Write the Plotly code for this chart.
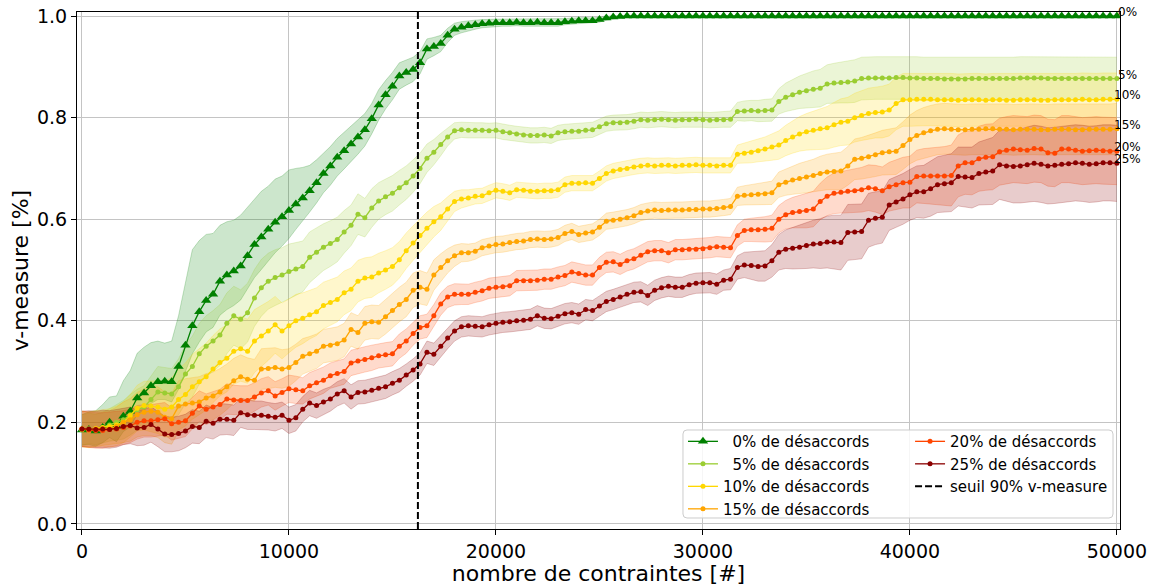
import numpy as np
import plotly.graph_objects as go

# ---------------- data ----------------
X_MAX = 50000
THRESHOLD_X = 16230          # seuil 90% v-measure
series_labels = ["0%", "5%", "10%", "15%", "20%", "25%"]
legend_names = ["\u20070% de désaccords", "\u20075% de désaccords", "10% de désaccords",
                "15% de désaccords", "20% de désaccords", "25% de désaccords"]
threshold_name = "seuil 90% v-measure"
x_ticks = [0, 10000, 20000, 30000, 40000, 50000]
y_ticks = [0.0, 0.2, 0.4, 0.6, 0.8, 1.0]

v0 = [0.185, 0.186, 0.183, 0.190, 0.200, 0.192, 0.212, 0.222, 0.248, 0.258,
      0.272, 0.280, 0.281, 0.280, 0.310, 0.352, 0.390, 0.418, 0.440, 0.452,
      0.478, 0.490, 0.498, 0.508, 0.528, 0.550, 0.565, 0.580, 0.594, 0.605,
      0.617, 0.630, 0.642, 0.656, 0.672, 0.690, 0.705, 0.722, 0.735, 0.748,
      0.762, 0.776, 0.798, 0.825, 0.845, 0.862, 0.882, 0.889, 0.895, 0.908,
      0.935, 0.940, 0.946, 0.962, 0.974, 0.978, 0.981, 0.983, 0.985, 0.986,
      0.987, 0.987, 0.987, 0.988, 0.987, 0.987, 0.988, 0.987, 0.987, 0.987,
      0.989, 0.990, 0.991, 0.991, 0.991, 0.993, 0.996, 0.998, 0.999, 1.000,
      1.000, 1.000, 1.000, 1.000, 1.000, 1.000, 1.000, 1.000, 1.000, 1.000,
      1.000, 1.000, 1.000, 1.000, 1.000, 1.000, 1.000, 1.000, 1.000, 1.000,
      1.000, 1.000, 1.000, 1.000, 1.000, 1.000, 1.000, 1.000, 1.000, 1.000,
      1.000, 1.000, 1.000, 1.000, 1.000, 1.000, 1.000, 1.000, 1.000, 1.000,
      1.000, 1.000, 1.000, 1.000, 1.000, 1.000, 1.000, 1.000, 1.000, 1.000,
      1.000, 1.000, 1.000, 1.000, 1.000, 1.000, 1.000, 1.000, 1.000, 1.000,
      1.000, 1.000, 1.000, 1.000, 1.000, 1.000, 1.000, 1.000, 1.000, 1.000,
      1.000]
e0_lo = [0.030, 0.030, 0.030, 0.030, 0.030, 0.030, 0.030, 0.031, 0.032, 0.034,
         0.035, 0.035, 0.036, 0.040, 0.045, 0.050, 0.055, 0.060, 0.062, 0.065,
         0.067, 0.068, 0.068, 0.067, 0.066, 0.065, 0.064, 0.062, 0.060, 0.058,
         0.055, 0.050, 0.046, 0.042, 0.040, 0.038, 0.038, 0.037, 0.036, 0.035,
         0.034, 0.032, 0.030, 0.030, 0.028, 0.027, 0.026, 0.025, 0.024, 0.022,
         0.020, 0.018, 0.016, 0.014, 0.012, 0.011, 0.010, 0.009, 0.008, 0.008,
         0.007, 0.007, 0.007, 0.007, 0.007, 0.007, 0.007, 0.007, 0.007, 0.007,
         0.006, 0.006, 0.006, 0.006, 0.005, 0.005, 0.004, 0.003, 0.002, 0.001,
         0.0, 0.0, 0.0, 0.0, 0.0, 0.0, 0.0, 0.0, 0.0, 0.0,
         0.0, 0.0, 0.0, 0.0, 0.0, 0.0, 0.0, 0.0, 0.0, 0.0,
         0.0, 0.0, 0.0, 0.0, 0.0, 0.0, 0.0, 0.0, 0.0, 0.0,
         0.0, 0.0, 0.0, 0.0, 0.0, 0.0, 0.0, 0.0, 0.0, 0.0,
         0.0, 0.0, 0.0, 0.0, 0.0, 0.0, 0.0, 0.0, 0.0, 0.0,
         0.0, 0.0, 0.0, 0.0, 0.0, 0.0, 0.0, 0.0, 0.0, 0.0,
         0.0, 0.0, 0.0, 0.0, 0.0, 0.0, 0.0, 0.0, 0.0, 0.0,
         0.0]
e0_hi = [0.030, 0.035, 0.040, 0.045, 0.050, 0.060, 0.070, 0.080, 0.088, 0.090,
         0.085, 0.080, 0.075, 0.080, 0.100, 0.125, 0.150, 0.140, 0.130, 0.120,
         0.110, 0.105, 0.100, 0.100, 0.095, 0.090, 0.090, 0.085, 0.085, 0.080,
         0.080, 0.070, 0.060, 0.050, 0.045, 0.040, 0.038, 0.037, 0.036, 0.035,
         0.034, 0.032, 0.030, 0.030, 0.028, 0.027, 0.026, 0.025, 0.024, 0.022,
         0.020, 0.018, 0.016, 0.014, 0.012, 0.011, 0.010, 0.009, 0.008, 0.008,
         0.007, 0.007, 0.007, 0.007, 0.007, 0.007, 0.007, 0.007, 0.007, 0.007,
         0.006, 0.006, 0.006, 0.006, 0.005, 0.005, 0.004, 0.003, 0.002, 0.001,
         0.0, 0.0, 0.0, 0.0, 0.0, 0.0, 0.0, 0.0, 0.0, 0.0,
         0.0, 0.0, 0.0, 0.0, 0.0, 0.0, 0.0, 0.0, 0.0, 0.0,
         0.0, 0.0, 0.0, 0.0, 0.0, 0.0, 0.0, 0.0, 0.0, 0.0,
         0.0, 0.0, 0.0, 0.0, 0.0, 0.0, 0.0, 0.0, 0.0, 0.0,
         0.0, 0.0, 0.0, 0.0, 0.0, 0.0, 0.0, 0.0, 0.0, 0.0,
         0.0, 0.0, 0.0, 0.0, 0.0, 0.0, 0.0, 0.0, 0.0, 0.0,
         0.0, 0.0, 0.0, 0.0, 0.0, 0.0, 0.0, 0.0, 0.0, 0.0,
         0.0]

v5 = [0.185, 0.188, 0.186, 0.190, 0.195, 0.200, 0.205, 0.215, 0.225, 0.230,
      0.245, 0.260, 0.258, 0.256, 0.270, 0.295, 0.310, 0.335, 0.350, 0.360,
      0.372, 0.395, 0.410, 0.403, 0.416, 0.445, 0.465, 0.478, 0.485, 0.490,
      0.497, 0.502, 0.507, 0.525, 0.535, 0.545, 0.552, 0.560, 0.575, 0.588,
      0.610, 0.603, 0.622, 0.636, 0.644, 0.651, 0.662, 0.672, 0.685, 0.700,
      0.720, 0.732, 0.747, 0.762, 0.774, 0.776, 0.775, 0.775, 0.775, 0.774,
      0.775, 0.772, 0.770, 0.768, 0.766, 0.765, 0.765, 0.766, 0.764, 0.770,
      0.772, 0.773, 0.773, 0.775, 0.776, 0.782, 0.788, 0.790, 0.790, 0.791,
      0.793, 0.796, 0.795, 0.796, 0.797, 0.796, 0.795, 0.796, 0.796, 0.797,
      0.796, 0.795, 0.796, 0.796, 0.797, 0.812, 0.813, 0.814, 0.813, 0.814,
      0.815, 0.832, 0.840, 0.845, 0.850, 0.853, 0.856, 0.858, 0.866, 0.868,
      0.869, 0.870, 0.872, 0.877, 0.878, 0.878, 0.878, 0.878, 0.879, 0.879,
      0.878, 0.878, 0.877, 0.877, 0.877, 0.876, 0.876, 0.876, 0.876, 0.877,
      0.877, 0.877, 0.877, 0.877, 0.877, 0.877, 0.878, 0.878, 0.878, 0.878,
      0.877, 0.877, 0.877, 0.877, 0.877, 0.877, 0.877, 0.877, 0.877, 0.877,
      0.877]
e5 = [0.030, 0.030, 0.030, 0.030, 0.032, 0.035, 0.038, 0.040, 0.040, 0.042,
      0.045, 0.050, 0.050, 0.050, 0.055, 0.058, 0.060, 0.060, 0.060, 0.060,
      0.060, 0.060, 0.058, 0.058, 0.058, 0.056, 0.056, 0.055, 0.055, 0.054,
      0.054, 0.052, 0.050, 0.050, 0.048, 0.046, 0.045, 0.044, 0.042, 0.040,
      0.040, 0.038, 0.038, 0.036, 0.035, 0.035, 0.034, 0.033, 0.032, 0.030,
      0.028, 0.025, 0.022, 0.018, 0.016, 0.015, 0.015, 0.015, 0.015, 0.015,
      0.015, 0.015, 0.015, 0.015, 0.015, 0.015, 0.015, 0.015, 0.015, 0.015,
      0.015, 0.015, 0.015, 0.015, 0.015, 0.015, 0.015, 0.015, 0.015, 0.015,
      0.015, 0.015, 0.015, 0.015, 0.015, 0.015, 0.015, 0.015, 0.015, 0.015,
      0.015, 0.015, 0.015, 0.015, 0.016, 0.018, 0.020, 0.020, 0.021, 0.022,
      0.022, 0.025, 0.028, 0.030, 0.032, 0.034, 0.036, 0.037, 0.038, 0.039,
      0.040, 0.041, 0.042, 0.042, 0.042, 0.042, 0.042, 0.042, 0.042, 0.042,
      0.042, 0.042, 0.042, 0.042, 0.042, 0.042, 0.042, 0.042, 0.042, 0.042,
      0.042, 0.042, 0.042, 0.042, 0.042, 0.042, 0.042, 0.042, 0.042, 0.042,
      0.042, 0.042, 0.042, 0.042, 0.042, 0.042, 0.042, 0.042, 0.042, 0.042,
      0.042]

v10 = [0.187, 0.185, 0.188, 0.190, 0.192, 0.195, 0.200, 0.213, 0.228, 0.233,
       0.232, 0.230, 0.226, 0.230, 0.245, 0.255, 0.270, 0.280, 0.290, 0.305,
       0.318, 0.326, 0.340, 0.345, 0.340, 0.360, 0.370, 0.380, 0.392, 0.380,
       0.390, 0.400, 0.405, 0.412, 0.418, 0.430, 0.436, 0.442, 0.455, 0.462,
       0.478, 0.484, 0.486, 0.494, 0.500, 0.507, 0.520, 0.538, 0.553, 0.568,
       0.582, 0.595, 0.605, 0.620, 0.635, 0.640, 0.642, 0.645, 0.646, 0.652,
       0.657, 0.655, 0.652, 0.658, 0.657, 0.655, 0.655, 0.656, 0.656, 0.658,
       0.668, 0.671, 0.671, 0.672, 0.671, 0.680, 0.690, 0.695, 0.698, 0.700,
       0.703, 0.705, 0.706, 0.705, 0.706, 0.706, 0.705, 0.706, 0.706, 0.707,
       0.706, 0.706, 0.705, 0.706, 0.706, 0.728, 0.730, 0.732, 0.735, 0.738,
       0.742, 0.746, 0.755, 0.762, 0.768, 0.772, 0.775, 0.778, 0.780, 0.786,
       0.791, 0.793, 0.800, 0.804, 0.808, 0.810, 0.811, 0.815, 0.828, 0.835,
       0.835, 0.836, 0.836, 0.836, 0.835, 0.835, 0.835, 0.834, 0.835, 0.835,
       0.835, 0.834, 0.835, 0.835, 0.834, 0.834, 0.835, 0.835, 0.835, 0.834,
       0.834, 0.835, 0.835, 0.835, 0.835, 0.836, 0.835, 0.835, 0.836, 0.836,
       0.836]
e10 = [0.035, 0.035, 0.035, 0.035, 0.035, 0.037, 0.040, 0.042, 0.045, 0.048,
       0.050, 0.052, 0.055, 0.058, 0.060, 0.062, 0.064, 0.065, 0.066, 0.066,
       0.066, 0.066, 0.065, 0.064, 0.063, 0.062, 0.060, 0.058, 0.056, 0.055,
       0.053, 0.052, 0.050, 0.048, 0.047, 0.046, 0.045, 0.044, 0.043, 0.042,
       0.041, 0.040, 0.040, 0.039, 0.038, 0.037, 0.036, 0.035, 0.034, 0.033,
       0.032, 0.030, 0.027, 0.024, 0.020, 0.018, 0.016, 0.015, 0.015, 0.015,
       0.015, 0.015, 0.015, 0.015, 0.015, 0.015, 0.015, 0.015, 0.015, 0.015,
       0.015, 0.015, 0.015, 0.015, 0.015, 0.015, 0.015, 0.015, 0.015, 0.015,
       0.015, 0.015, 0.015, 0.015, 0.015, 0.015, 0.015, 0.015, 0.015, 0.015,
       0.015, 0.015, 0.015, 0.015, 0.015, 0.018, 0.020, 0.021, 0.022, 0.024,
       0.026, 0.028, 0.030, 0.032, 0.034, 0.036, 0.038, 0.040, 0.042, 0.044,
       0.046, 0.047, 0.048, 0.049, 0.050, 0.050, 0.051, 0.051, 0.052, 0.052,
       0.052, 0.052, 0.052, 0.052, 0.052, 0.052, 0.052, 0.052, 0.052, 0.052,
       0.052, 0.052, 0.052, 0.052, 0.052, 0.052, 0.052, 0.052, 0.052, 0.052,
       0.052, 0.052, 0.052, 0.052, 0.052, 0.052, 0.052, 0.052, 0.052, 0.052,
       0.052]

v15 = [0.187, 0.186, 0.187, 0.188, 0.187, 0.192, 0.200, 0.205, 0.215, 0.220,
       0.222, 0.220, 0.210, 0.207, 0.232, 0.236, 0.238, 0.240, 0.248, 0.252,
       0.260, 0.270, 0.282, 0.290, 0.285, 0.283, 0.305, 0.306, 0.308, 0.305,
       0.308, 0.318, 0.330, 0.335, 0.340, 0.350, 0.352, 0.355, 0.362, 0.383,
       0.377, 0.395, 0.398, 0.397, 0.408, 0.420, 0.432, 0.442, 0.460, 0.466,
       0.462, 0.490, 0.505, 0.518, 0.528, 0.534, 0.534, 0.537, 0.544, 0.547,
       0.550, 0.551, 0.554, 0.556, 0.557, 0.560, 0.561, 0.560, 0.561, 0.564,
       0.572, 0.576, 0.570, 0.573, 0.575, 0.584, 0.596, 0.598, 0.600, 0.603,
       0.607, 0.613, 0.616, 0.618, 0.617, 0.618, 0.618, 0.618, 0.619, 0.619,
       0.620, 0.620, 0.621, 0.623, 0.625, 0.645, 0.647, 0.648, 0.649, 0.650,
       0.652, 0.668, 0.673, 0.677, 0.680, 0.683, 0.686, 0.690, 0.693, 0.694,
       0.695, 0.705, 0.718, 0.720, 0.723, 0.727, 0.731, 0.733, 0.734, 0.745,
       0.757, 0.765, 0.770, 0.774, 0.777, 0.778, 0.777, 0.776, 0.776, 0.777,
       0.777, 0.778, 0.778, 0.777, 0.777, 0.776, 0.777, 0.777, 0.777, 0.776,
       0.776, 0.777, 0.777, 0.777, 0.776, 0.776, 0.777, 0.777, 0.777, 0.777,
       0.778]
e15 = [0.035, 0.035, 0.035, 0.035, 0.036, 0.038, 0.040, 0.042, 0.044, 0.046,
       0.048, 0.050, 0.050, 0.050, 0.050, 0.050, 0.050, 0.050, 0.048, 0.047,
       0.046, 0.045, 0.044, 0.043, 0.042, 0.041, 0.040, 0.040, 0.039, 0.038,
       0.037, 0.036, 0.035, 0.034, 0.034, 0.033, 0.033, 0.033, 0.033, 0.033,
       0.033, 0.033, 0.033, 0.033, 0.034, 0.034, 0.034, 0.034, 0.034, 0.033,
       0.032, 0.030, 0.027, 0.024, 0.021, 0.018, 0.017, 0.016, 0.016, 0.016,
       0.016, 0.016, 0.016, 0.016, 0.016, 0.016, 0.016, 0.016, 0.016, 0.016,
       0.016, 0.016, 0.016, 0.016, 0.016, 0.016, 0.016, 0.016, 0.016, 0.016,
       0.016, 0.016, 0.016, 0.016, 0.016, 0.016, 0.016, 0.016, 0.016, 0.016,
       0.016, 0.016, 0.016, 0.016, 0.016, 0.018, 0.019, 0.020, 0.021, 0.022,
       0.023, 0.025, 0.026, 0.028, 0.030, 0.031, 0.032, 0.034, 0.035, 0.036,
       0.037, 0.038, 0.040, 0.041, 0.042, 0.043, 0.044, 0.045, 0.046, 0.047,
       0.048, 0.049, 0.050, 0.050, 0.050, 0.050, 0.050, 0.050, 0.050, 0.050,
       0.050, 0.050, 0.050, 0.050, 0.050, 0.050, 0.050, 0.050, 0.050, 0.050,
       0.050, 0.050, 0.050, 0.050, 0.050, 0.050, 0.050, 0.050, 0.050, 0.050,
       0.050]

v20 = [0.187, 0.185, 0.184, 0.184, 0.186, 0.187, 0.190, 0.193, 0.200, 0.203,
       0.203, 0.205, 0.207, 0.197, 0.200, 0.203, 0.218, 0.232, 0.226, 0.230,
       0.235, 0.246, 0.244, 0.243, 0.243, 0.250, 0.258, 0.262, 0.252, 0.259,
       0.266, 0.264, 0.262, 0.272, 0.278, 0.283, 0.292, 0.296, 0.300, 0.317,
       0.321, 0.324, 0.327, 0.331, 0.333, 0.335, 0.350, 0.360, 0.375, 0.387,
       0.390, 0.410, 0.433, 0.447, 0.452, 0.452, 0.452, 0.456, 0.459, 0.464,
       0.466, 0.467, 0.469, 0.479, 0.479, 0.479, 0.480, 0.482, 0.482, 0.486,
       0.489, 0.496, 0.493, 0.490, 0.490, 0.505, 0.515, 0.516, 0.511, 0.518,
       0.522, 0.529, 0.536, 0.538, 0.538, 0.534, 0.540, 0.540, 0.541, 0.541,
       0.542, 0.544, 0.546, 0.545, 0.544, 0.568, 0.578, 0.579, 0.579, 0.580,
       0.582, 0.600, 0.609, 0.613, 0.615, 0.617, 0.620, 0.635, 0.645, 0.651,
       0.653, 0.655, 0.656, 0.658, 0.662, 0.660, 0.656, 0.664, 0.668, 0.672,
       0.673, 0.684, 0.685, 0.685, 0.685, 0.685, 0.686, 0.705, 0.711, 0.711,
       0.719, 0.722, 0.723, 0.733, 0.736, 0.738, 0.737, 0.736, 0.739, 0.738,
       0.731, 0.730, 0.738, 0.738, 0.736, 0.734, 0.735, 0.736, 0.735, 0.734,
       0.734]
e20 = [0.035, 0.035, 0.035, 0.035, 0.034, 0.034, 0.033, 0.033, 0.033, 0.032,
       0.032, 0.032, 0.032, 0.032, 0.031, 0.031, 0.031, 0.030, 0.030, 0.030,
       0.030, 0.030, 0.029, 0.029, 0.029, 0.028, 0.028, 0.028, 0.028, 0.027,
       0.027, 0.027, 0.026, 0.026, 0.026, 0.026, 0.025, 0.025, 0.025, 0.025,
       0.025, 0.025, 0.025, 0.024, 0.024, 0.024, 0.024, 0.024, 0.023, 0.023,
       0.023, 0.022, 0.022, 0.021, 0.021, 0.020, 0.020, 0.020, 0.020, 0.020,
       0.020, 0.020, 0.020, 0.020, 0.020, 0.020, 0.020, 0.020, 0.020, 0.020,
       0.020, 0.020, 0.020, 0.020, 0.020, 0.020, 0.020, 0.020, 0.020, 0.020,
       0.020, 0.020, 0.020, 0.020, 0.020, 0.020, 0.020, 0.020, 0.020, 0.020,
       0.020, 0.020, 0.020, 0.020, 0.020, 0.021, 0.022, 0.023, 0.024, 0.025,
       0.026, 0.027, 0.028, 0.030, 0.032, 0.034, 0.035, 0.036, 0.038, 0.040,
       0.041, 0.042, 0.043, 0.044, 0.045, 0.046, 0.047, 0.048, 0.049, 0.050,
       0.051, 0.052, 0.054, 0.055, 0.057, 0.058, 0.060, 0.061, 0.062, 0.063,
       0.064, 0.065, 0.065, 0.066, 0.066, 0.066, 0.066, 0.066, 0.066, 0.066,
       0.066, 0.066, 0.066, 0.066, 0.066, 0.066, 0.066, 0.066, 0.066, 0.066,
       0.066]

v25 = [0.187, 0.187, 0.186, 0.187, 0.186, 0.188, 0.192, 0.194, 0.189, 0.190,
       0.196, 0.187, 0.177, 0.176, 0.178, 0.183, 0.192, 0.190, 0.202, 0.198,
       0.206, 0.206, 0.204, 0.219, 0.215, 0.214, 0.214, 0.212, 0.210, 0.214,
       0.204, 0.209, 0.226, 0.238, 0.233, 0.240, 0.246, 0.256, 0.262, 0.250,
       0.259, 0.260, 0.263, 0.267, 0.270, 0.277, 0.283, 0.293, 0.303, 0.315,
       0.338, 0.334, 0.350, 0.366, 0.380, 0.388, 0.390, 0.389, 0.388, 0.392,
       0.395, 0.397, 0.398, 0.400, 0.401, 0.403, 0.410, 0.405, 0.404, 0.409,
       0.414, 0.416, 0.413, 0.422, 0.420, 0.429, 0.438, 0.442, 0.447, 0.452,
       0.456, 0.457, 0.450, 0.460, 0.465, 0.468, 0.466, 0.466, 0.471, 0.474,
       0.475, 0.475, 0.472, 0.480, 0.482, 0.505, 0.510, 0.509, 0.507, 0.508,
       0.518, 0.535, 0.541, 0.543, 0.545, 0.548, 0.551, 0.552, 0.555, 0.555,
       0.554, 0.574, 0.575, 0.576, 0.598, 0.602, 0.604, 0.628, 0.634, 0.640,
       0.648, 0.654, 0.654, 0.660, 0.668, 0.670, 0.672, 0.684, 0.683, 0.682,
       0.690, 0.693, 0.695, 0.707, 0.705, 0.704, 0.705, 0.707, 0.710, 0.708,
       0.705, 0.706, 0.708, 0.709, 0.711, 0.710, 0.708, 0.709, 0.711, 0.711,
       0.710]
e25 = [0.035, 0.036, 0.036, 0.037, 0.037, 0.037, 0.036, 0.036, 0.035, 0.035,
       0.035, 0.035, 0.035, 0.034, 0.034, 0.033, 0.033, 0.032, 0.032, 0.031,
       0.031, 0.030, 0.030, 0.029, 0.029, 0.028, 0.028, 0.027, 0.027, 0.026,
       0.026, 0.026, 0.025, 0.025, 0.025, 0.025, 0.024, 0.024, 0.024, 0.024,
       0.023, 0.023, 0.023, 0.023, 0.023, 0.023, 0.023, 0.022, 0.022, 0.022,
       0.022, 0.022, 0.021, 0.021, 0.020, 0.020, 0.020, 0.020, 0.020, 0.020,
       0.020, 0.020, 0.020, 0.020, 0.020, 0.020, 0.020, 0.020, 0.020, 0.020,
       0.020, 0.020, 0.020, 0.020, 0.020, 0.020, 0.020, 0.020, 0.020, 0.020,
       0.020, 0.020, 0.020, 0.020, 0.020, 0.020, 0.020, 0.020, 0.020, 0.020,
       0.020, 0.020, 0.020, 0.020, 0.021, 0.023, 0.025, 0.027, 0.029, 0.030,
       0.032, 0.035, 0.038, 0.041, 0.043, 0.045, 0.047, 0.049, 0.051, 0.053,
       0.054, 0.055, 0.055, 0.054, 0.053, 0.052, 0.051, 0.050, 0.050, 0.050,
       0.050, 0.051, 0.052, 0.054, 0.055, 0.056, 0.057, 0.058, 0.059, 0.060,
       0.062, 0.064, 0.066, 0.068, 0.070, 0.072, 0.073, 0.074, 0.075, 0.075,
       0.075, 0.075, 0.075, 0.075, 0.075, 0.075, 0.075, 0.075, 0.075, 0.075,
       0.075]

means = [v0, v5, v10, v15, v20, v25]
err_lo = [e0_lo, e5, e10, e15, e20, e25]
err_hi = [e0_hi, e5, e10, e15, e20, e25]

# ---------------- style ----------------
colors_rgb = [(0, 128, 0), (154, 205, 50), (255, 215, 0), (255, 165, 0), (255, 69, 0), (139, 0, 0)]
FONT = "DejaVu Sans"
X_RANGE = [-240, 50150]
Y_RANGE = [-0.01, 1.008]

fig = go.Figure()

# bands
for k in range(6):
    n = min(len(means[k]), len(err_lo[k]), len(err_hi[k]))
    m = np.array(means[k][:n])
    lo = m - np.array(err_lo[k][:n])
    hi = m + np.array(err_hi[k][:n])
    x = np.linspace(0, X_MAX, n)
    r, g, b = colors_rgb[k]
    edge = f"rgba({r},{g},{b},0.22)"
    fig.add_trace(go.Scatter(x=x, y=lo, mode="lines", line=dict(color=edge, width=1),
                             showlegend=False, hoverinfo="skip"))
    fig.add_trace(go.Scatter(x=x, y=hi, mode="lines", line=dict(color=edge, width=1),
                             fill="tonexty", fillcolor=f"rgba({r},{g},{b},0.2)",
                             showlegend=False, hoverinfo="skip"))

# mean lines
for k in range(6):
    m = means[k]
    x = np.linspace(0, X_MAX, len(m))
    r, g, b = colors_rgb[k]
    c = f"rgb({r},{g},{b})"
    if k == 0:
        marker = dict(symbol="triangle-up", size=9, color=c)
    else:
        marker = dict(symbol="circle", size=5, color=c)
    fig.add_trace(go.Scatter(x=x, y=m, mode="lines+markers", name=legend_names[k],
                             line=dict(color=c, width=1.3), marker=marker,
                             legend="legend" if k < 4 else "legend2"))

# threshold line (legend entry + full-height shape)
fig.add_trace(go.Scatter(x=[None], y=[None], mode="lines", name=threshold_name,
                         line=dict(color="black", width=2, dash="7px,3px"),
                         legend="legend2"))
fig.add_shape(type="line", xref="x", yref="paper", x0=THRESHOLD_X, x1=THRESHOLD_X,
              y0=0, y1=1, line=dict(color="black", width=2, dash="7px,3px"), layer="above")

# end labels
for k in range(6):
    fig.add_annotation(x=X_MAX, y=means[k][-1], text=series_labels[k], showarrow=False,
                       xanchor="center", yanchor="middle", xshift=11, yshift=4,
                       font=dict(family=FONT, size=12, color="black"))

# legend frame (one box for both columns)
L, R, B, T = 0.581, 0.9933, 0.0213, 0.1915
rx, ry = 4 / 1043, 4 / 517
path = (f"M {L+rx},{B} L {R-rx},{B} Q {R},{B} {R},{B+ry} L {R},{T-ry} Q {R},{T} {R-rx},{T} "
        f"L {L+rx},{T} Q {L},{T} {L},{T-ry} L {L},{B+ry} Q {L},{B} {L+rx},{B} Z")
fig.add_shape(type="path", path=path, xref="paper", yref="paper",
              fillcolor="rgba(255,255,255,0.85)", line=dict(color="#cccccc", width=1), layer="above")

legend_common = dict(font=dict(family=FONT, size=15, color="black"), bgcolor="rgba(0,0,0,0)",
                     borderwidth=0, yanchor="top", xanchor="left", traceorder="normal",
                     itemwidth=30, orientation="v")

fig.update_layout(
    width=1151, height=586,
    margin=dict(l=77, r=31, t=12, b=57, autoexpand=False),
    paper_bgcolor="white", plot_bgcolor="white",
    font=dict(family=FONT, color="black"),
    showlegend=True,
    legend=dict(x=0.581, y=0.201, **legend_common),
    legend2=dict(x=0.7987, y=0.201, **legend_common),
    xaxis=dict(range=X_RANGE, tickvals=x_ticks, ticktext=[str(t) for t in x_ticks],
               showgrid=True, gridcolor="#c4c4c4", gridwidth=1, zeroline=False,
               showline=True, linecolor="black", linewidth=1, mirror=True,
               ticks="outside", ticklen=5, tickcolor="black", automargin=False,
               ticklabeloverflow="allow",
               tickfont=dict(family=FONT, size=19, color="black"),
               title=dict(text="nombre de contraintes [#]", font=dict(family=FONT, size=22), standoff=2)),
    yaxis=dict(range=Y_RANGE, tickvals=y_ticks, ticktext=[f"{t:.1f}" for t in y_ticks],
               showgrid=True, gridcolor="#c4c4c4", gridwidth=1, zeroline=False,
               showline=True, linecolor="black", linewidth=1, mirror=True,
               ticks="outside", ticklen=5, tickcolor="black", automargin=False,
               ticklabeloverflow="allow",
               tickfont=dict(family=FONT, size=19, color="black"),
               title=dict(text="v-measure [%]", font=dict(family=FONT, size=22), standoff=2)),
)

# remove the default 8px page margin so the 1151x586 figure fills the window exactly
fig.write_html("out.html",
               config={"displayModeBar": False},
               post_script="document.body.style.margin='0px';document.body.style.overflow='hidden';")
